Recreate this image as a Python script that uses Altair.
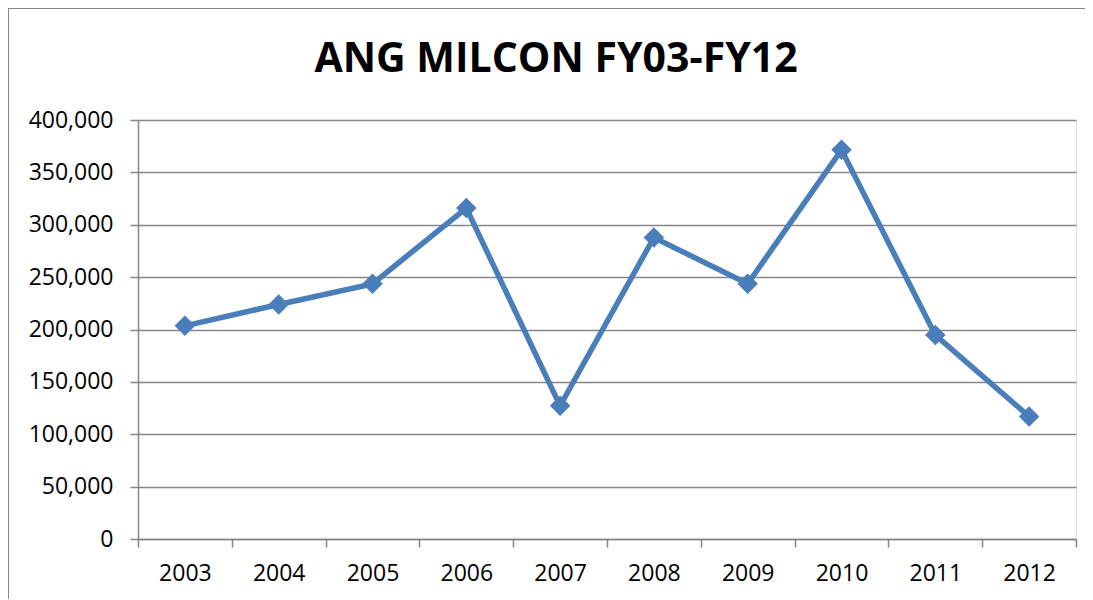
import altair as alt
import pandas as pd

years = ["2003", "2004", "2005", "2006", "2007", "2008", "2009", "2010", "2011", "2012"]
values = [203500, 223900, 243600, 316000, 127100, 287800, 243600, 371500, 194700, 116900]

df = pd.DataFrame({"year": years, "value": values})

LINE_COLOR = "#4a7ebb"
GRID = "#868686"
FONT = "Open Sans"

W, H = 938, 419
PAD = {"left": 130, "top": 112, "right": 9, "bottom": 60}

x_enc = alt.X(
    "year:O",
    sort=years,
    scale=alt.Scale(type="band", paddingInner=0, paddingOuter=0),
    axis=alt.Axis(
        title=None, labelAngle=0, tickBand="extent", tickSize=8, grid=False,
        domainColor=GRID, tickColor=GRID, domainWidth=1.5, tickWidth=1.5,
        labelFont=FONT, labelFontSize=23, labelColor="#000000", labelPadding=15,
    ),
)
y_enc = alt.Y(
    "value:Q",
    scale=alt.Scale(domain=[0, 400000], nice=False),
    axis=alt.Axis(
        title=None, values=list(range(0, 400001, 50000)), format=",d",
        tickSize=8, grid=True, gridColor=GRID, gridWidth=1.5,
        domainColor=GRID, tickColor=GRID, domainWidth=1.5, tickWidth=1.5,
        labelFont=FONT, labelFontSize=23, labelColor="#000000", labelPadding=17,
    ),
)

border = alt.Chart(df).mark_rect(
    fill=None, stroke=GRID, strokeWidth=1.5, clip=False
).encode(
    x=alt.value(-PAD["left"]), x2=alt.value(W + 300),
    y=alt.value(-PAD["top"]), y2=alt.value(H + 300),
)

line = alt.Chart(df).mark_line(color=LINE_COLOR, strokeWidth=5.5).encode(x=x_enc, y=y_enc)
points = alt.Chart(df).mark_point(
    shape="diamond", filled=True, color=LINE_COLOR, size=420, opacity=1
).encode(x=x_enc, y=y_enc)

chart = alt.layer(border, line, points).properties(
    width=W, height=H,
    title=alt.Title(
        "ANG MILCON FY03-FY12", font=FONT, fontSize=41, fontWeight="bold",
        color="#000000", anchor="middle", frame="group", baseline="alphabetic",
        dx=-51, dy=106, offset=0,
    ),
    autosize=alt.AutoSizeParams(type="none"),
    padding=PAD,
).configure_view(stroke=None).configure(background="#ffffff")

chart.save("out.html", embed_options={"renderer": "svg", "actions": False})
